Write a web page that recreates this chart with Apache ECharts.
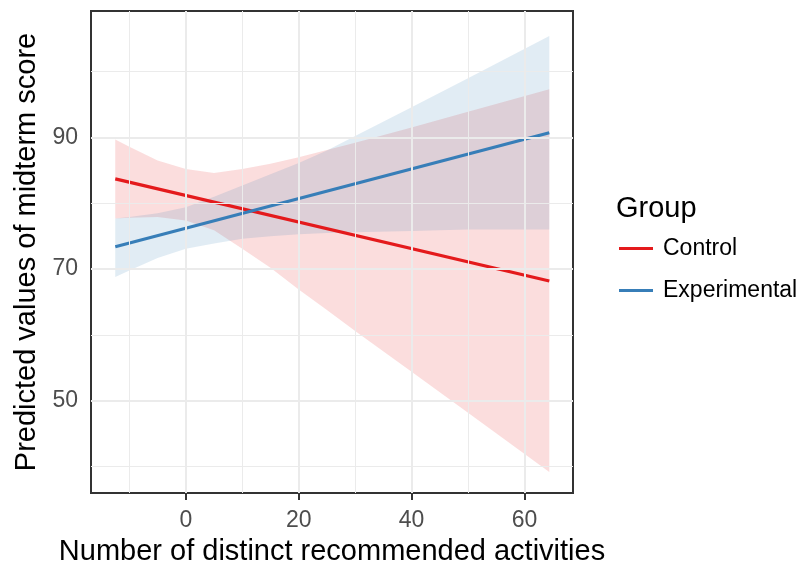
<!DOCTYPE html>
<html>
<head>
<meta charset="utf-8">
<script src="https://cdn.jsdelivr.net/npm/echarts@6/dist/echarts.min.js"></script>
<style>
  html, body { margin: 0; padding: 0; background: #ffffff; }
  #chart { width: 806px; height: 565px; }
</style>
</head>
<body>
<div id="chart"></div>
<script>
// Predicted-score lines: endpoints of each group's fitted line
const fitX = [-12.5, 64.4];
const controlFit = [83.7, 68.2];
const experimentalFit = [73.4, 90.7];

// Confidence band edges, sampled along the x range
const bandX = [-12.5, -10, -5, 0, 5, 10, 15, 20, 25, 30, 40, 50, 64.4];
const controlUpper = [89.7, 88.6, 86.5, 85.2, 84.6, 85.2, 86.0, 87.0, 88.1, 89.2, 91.5, 93.9, 97.3];
const controlLower = [77.7, 77.8, 77.9, 77.4, 75.9, 73.1, 70.2, 66.9, 63.8, 60.6, 54.4, 48.2, 39.2];
const experimentalUpper = [77.7, 77.9, 78.5, 79.4, 81.0, 82.7, 84.4, 86.1, 88.0, 90.2, 94.6, 99.0, 105.4];
const experimentalLower = [68.8, 69.8, 71.7, 73.1, 73.9, 74.6, 75.0, 75.3, 75.5, 75.6, 75.8, 76.0, 76.0];

// Axis ticks and grid positions
const xTicks = [0, 20, 40, 60];
const xMinorTicks = [-10, 10, 30, 50];
const yTicks = [50, 70, 90];
const yMinorTicks = [40, 60, 80, 100];

const groups = ['Control', 'Experimental'];
const groupColors = ['#E41A1C', '#377EB8'];
const bandFills = ['rgba(228,26,28,0.15)', 'rgba(55,126,184,0.15)'];

const FONT = 'Liberation Sans, Arial, Helvetica, sans-serif';

const pairs = (xs, ys) => xs.map((x, i) => [x, ys[i]]);

// One filled polygon per band: upper edge left-to-right, lower edge back
function bandSeries(name, upper, lower, fill) {
  return {
    name: name + ' band',
    type: 'custom',
    coordinateSystem: 'cartesian2d',
    silent: true,
    z: 2,
    data: bandX.map((x, i) => [x, lower[i], upper[i]]),
    encode: { x: 0, y: [1, 2] },
    renderItem: function (params, api) {
      if (params.dataIndex !== 0) return;
      const pts = [];
      for (let i = 0; i < bandX.length; i++) pts.push(api.coord([bandX[i], upper[i]]));
      for (let i = bandX.length - 1; i >= 0; i--) pts.push(api.coord([bandX[i], lower[i]]));
      return {
        type: 'polygon',
        shape: { points: pts },
        style: { fill: fill, stroke: null }
      };
    }
  };
}

const gridLineSeries = {
  name: 'grid',
  type: 'line',
  data: [],
  silent: true,
  z: 1,
  markLine: {
    silent: true,
    symbol: 'none',
    label: { show: false },
    animation: false,
    data: [
      ...xMinorTicks.map(v => ({ xAxis: v, lineStyle: { color: '#EBEBEB', width: 1, type: 'solid' } })),
      ...yMinorTicks.map(v => ({ yAxis: v, lineStyle: { color: '#EBEBEB', width: 1, type: 'solid' } })),
      ...xTicks.map(v => ({ xAxis: v, lineStyle: { color: '#EBEBEB', width: 2, type: 'solid' } })),
      ...yTicks.map(v => ({ yAxis: v, lineStyle: { color: '#EBEBEB', width: 2, type: 'solid' } }))
    ]
  }
};

const chart = echarts.init(document.getElementById('chart'), null, { renderer: 'canvas' });

chart.setOption({
  animation: false,
  backgroundColor: '#ffffff',
  textStyle: { fontFamily: FONT },
  grid: {
    left: 91, top: 11, width: 482, height: 482,
    show: true, borderColor: '#333333', borderWidth: 2, backgroundColor: 'transparent',
    containLabel: false,
    outerBoundsMode: 'none'
  },
  xAxis: {
    type: 'value',
    min: -16.8, max: 68.6,
    name: 'Number of distinct recommended activities',
    nameLocation: 'middle',
    nameGap: 44,
    nameTextStyle: { fontSize: 29, color: '#000000', fontFamily: FONT },
    axisLine: { show: false },
    axisTick: { show: true, length: 7, customValues: xTicks, lineStyle: { color: '#333333', width: 2 } },
    axisLabel: { show: true, customValues: xTicks, margin: 16, fontSize: 23, color: '#4D4D4D', fontFamily: FONT },
    splitLine: { show: false },
    minorSplitLine: { show: false }
  },
  yAxis: {
    type: 'value',
    min: 36.0, max: 109.2,
    name: 'Predicted values of midterm score',
    nameLocation: 'middle',
    nameGap: 48,
    nameRotate: 90,
    nameTextStyle: { fontSize: 29, color: '#000000', fontFamily: FONT },
    axisLine: { show: false },
    axisTick: { show: true, length: 7, customValues: yTicks, lineStyle: { color: '#333333', width: 2 } },
    axisLabel: { show: true, customValues: yTicks, margin: 13, fontSize: 23, color: '#4D4D4D', fontFamily: FONT },
    splitLine: { show: false },
    minorSplitLine: { show: false }
  },
  legend: {
    data: groups,
    orient: 'vertical',
    left: 619,
    top: 237,
    padding: 0,
    icon: 'rect',
    itemWidth: 34,
    itemHeight: 3,
    itemGap: 19,
    selectedMode: false,
    textStyle: { fontSize: 23, color: '#000000', fontFamily: FONT, padding: [0, 0, 0, 5] }
  },
  graphic: [
    {
      type: 'text',
      left: 616,
      top: 194,
      style: { text: 'Group', font: '29px ' + FONT, fill: '#000000' }
    }
  ],
  series: [
    gridLineSeries,
    bandSeries('Control', controlUpper, controlLower, bandFills[0]),
    bandSeries('Experimental', experimentalUpper, experimentalLower, bandFills[1]),
    {
      name: 'Control',
      type: 'line',
      data: pairs(fitX, controlFit),
      symbol: 'none',
      color: groupColors[0],
      lineStyle: { color: groupColors[0], width: 3.2 },
      z: 3
    },
    {
      name: 'Experimental',
      type: 'line',
      data: pairs(fitX, experimentalFit),
      symbol: 'none',
      color: groupColors[1],
      lineStyle: { color: groupColors[1], width: 3.2 },
      z: 3
    }
  ]
});
</script>
</body>
</html>
